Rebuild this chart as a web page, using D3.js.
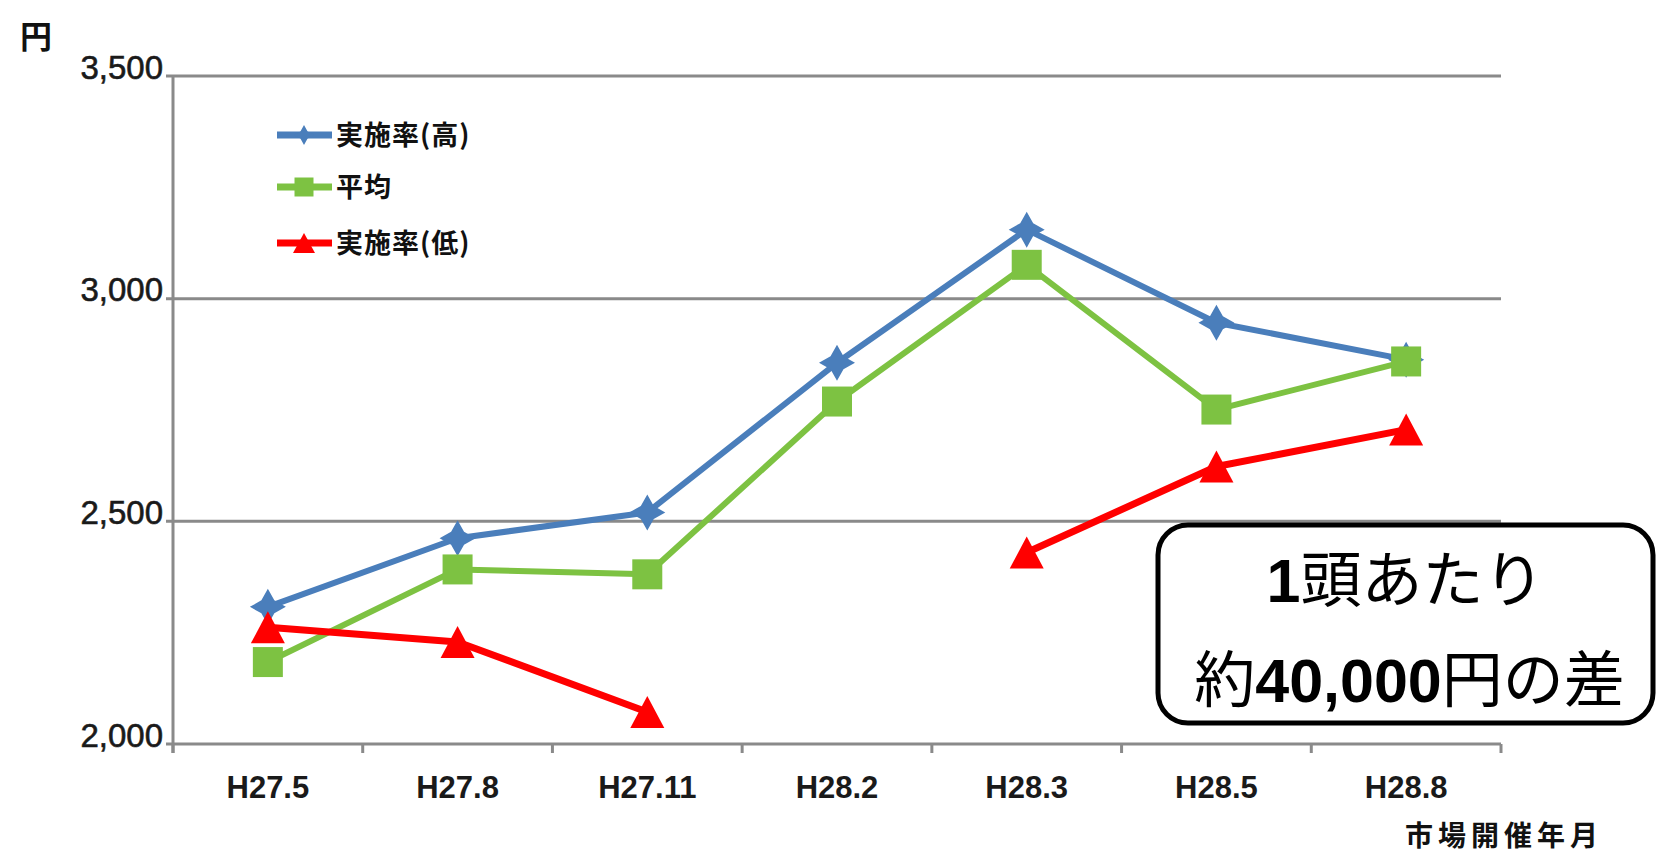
<!DOCTYPE html>
<html>
<head>
<meta charset="utf-8">
<script src="https://cdn.jsdelivr.net/npm/d3@7"></script>
<style>
  html, body { margin: 0; padding: 0; background: #fff; }
  svg { display: block; }
</style>
</head>
<body>
<svg id="chart" width="1657" height="854"></svg>
<script>
// ---- data ----
const categories = ["H27.5", "H27.8", "H27.11", "H28.2", "H28.3", "H28.5", "H28.8"];
const seriesHigh = [2308, 2462, 2520, 2856, 3155, 2946, 2863];
const seriesAvg  = [2184, 2392, 2381, 2769, 3076, 2751, 2859];
const seriesLow  = [2262, 2229, 2072, null, 2430, 2623, 2706];
const seriesNames = ["実施率(高)", "平均", "実施率(低)"];
const yTicks = [2000, 2500, 3000, 3500];
const yUnit = "円";
const xTitle = "市場開催年月";
const noteLine1 = ["1", "頭あたり"];
const noteLine2 = ["約", "40,000", "円の差"];

(function () {
// ---- layout ----
const svg = d3.select("#chart");
const pLeft = 173, pRight = 1501, pTop = 76, pBottom = 744;

const x = d3.scaleBand().domain(categories).range([pLeft, pRight]).padding(0);
const y = d3.scaleLinear().domain([2000, 3500]).range([pBottom, pTop]);
const cx = c => x(c) + x.bandwidth() / 2;

const gridColor = "#8a8a8a";

// gridlines
svg.append("g").selectAll("line").data(yTicks.filter(t => t !== 2000)).join("line")
  .attr("x1", pLeft - 7).attr("x2", pRight)
  .attr("y1", d => y(d)).attr("y2", d => y(d))
  .attr("stroke", gridColor).attr("stroke-width", 3);

// x axis
const xAxis = d3.axisBottom(x).tickSize(0).tickFormat(d => d);
const gx = svg.append("g").attr("transform", `translate(0,${pBottom})`).call(xAxis);
gx.select(".domain").remove();
gx.selectAll("text")
  .attr("dy", 0).attr("y", 54)
  .attr("font-family", "'Liberation Sans', Arial, sans-serif")
  .attr("font-weight", "bold").attr("font-size", 31).attr("fill", "#1a1a1a");
svg.append("line").attr("x1", pLeft - 7).attr("x2", pRight)
  .attr("y1", pBottom).attr("y2", pBottom)
  .attr("stroke", gridColor).attr("stroke-width", 3);
// category boundary ticks
const bounds = categories.map(c => x(c)).concat([pRight]);
svg.append("g").selectAll("line").data(bounds).join("line")
  .attr("x1", d => d).attr("x2", d => d)
  .attr("y1", pBottom).attr("y2", pBottom + 9)
  .attr("stroke", gridColor).attr("stroke-width", 3);

// y axis
svg.append("line").attr("x1", pLeft).attr("x2", pLeft)
  .attr("y1", pTop).attr("y2", pBottom + 9)
  .attr("stroke", gridColor).attr("stroke-width", 3);
const yAxis = d3.axisLeft(y).tickValues(yTicks).tickSize(0).tickFormat(d3.format(","));
const gy = svg.append("g").attr("transform", `translate(${pLeft - 10},0)`).call(yAxis);
gy.select(".domain").remove();
gy.selectAll("text")
  .attr("dy", 2).attr("x", 0)
  .attr("font-family", "'Liberation Sans', Arial, sans-serif")
  .attr("font-size", 33).attr("fill", "#1a1a1a")
  .attr("stroke", "#1a1a1a").attr("stroke-width", 0.6);

// unit label
svg.append("text").attr("x", 20).attr("y", 48).text(yUnit)
  .attr("font-family", "'Noto Sans CJK JP', sans-serif")
  .attr("font-weight", "bold").attr("font-size", 32).attr("fill", "#111");

// x title
svg.append("text").attr("x", 1405).attr("y", 846).text(xTitle)
  .attr("font-family", "'Noto Sans CJK JP', sans-serif")
  .attr("font-weight", "bold").attr("font-size", 28)
  .attr("letter-spacing", 5).attr("fill", "#111");

// ---- series ----
const colors = ["#4a7ebb", "#7dc242", "#ff0000"];
const seriesData = [seriesHigh, seriesAvg, seriesLow];

function diamondPath(r) {
  const i = r * 0.36;
  return `M0,${-r}L${i},${-i}L${r},0L${i},${i}L0,${r}L${-i},${i}L${-r},0L${-i},${-i}Z`;
}
function squarePath(s) { const h = s / 2; return `M${-h},${-h}H${h}V${h}H${-h}Z`; }
function trianglePath(w, h) { return `M0,${-h/2}L${w/2},${h/2}L${-w/2},${h/2}Z`; }
const markerPaths = [diamondPath(18), squarePath(30), trianglePath(34, 32)];
const legendMarkers = [diamondPath(10), squarePath(19), trianglePath(22, 20)];
const lineWidths = [6, 6, 7];

seriesData.forEach((vals, si) => {
  const pts = categories.map((c, i) => ({ c, v: vals[i] }));
  const line = d3.line().defined(d => d.v != null).x(d => cx(d.c)).y(d => y(d.v));
  svg.append("path").datum(pts).attr("d", line)
    .attr("fill", "none").attr("stroke", colors[si])
    .attr("stroke-width", lineWidths[si]).attr("stroke-linejoin", "round");
});
seriesData.forEach((vals, si) => {
  const pts = categories.map((c, i) => ({ c, v: vals[i] })).filter(d => d.v != null);
  svg.append("g").selectAll("path").data(pts).join("path")
    .attr("d", markerPaths[si])
    .attr("transform", d => `translate(${cx(d.c)},${y(d.v)})`)
    .attr("fill", colors[si]);
});

// ---- legend ----
const legendY = [135, 187, 243];
seriesNames.forEach((name, i) => {
  const g = svg.append("g");
  g.append("line").attr("x1", 277).attr("x2", 332)
    .attr("y1", legendY[i]).attr("y2", legendY[i])
    .attr("stroke", colors[i]).attr("stroke-width", 7);
  g.append("path").attr("d", legendMarkers[i])
    .attr("transform", `translate(304,${legendY[i]})`).attr("fill", colors[i]);
  g.append("text").attr("x", 336).attr("y", legendY[i] + 10).text(name)
    .attr("font-family", "'Noto Sans CJK JP', sans-serif")
    .attr("font-weight", "bold").attr("font-size", 27)
    .attr("letter-spacing", 1).attr("fill", "#111");
});

// ---- annotation box ----
const boxX = 1158, boxY = 525, boxW = 495, boxH = 198;
svg.append("rect").attr("x", boxX).attr("y", boxY).attr("width", boxW).attr("height", boxH)
  .attr("rx", 30).attr("ry", 30)
  .attr("fill", "#fff").attr("stroke", "#000").attr("stroke-width", 5);

const t1 = svg.append("text").attr("x", boxX + boxW / 2).attr("y", 602)
  .attr("text-anchor", "middle").attr("font-size", 61).attr("fill", "#000")
  .attr("font-family", "'Noto Sans CJK JP', sans-serif");
t1.append("tspan").text(noteLine1[0]).attr("font-weight", "bold")
  .attr("font-family", "'Liberation Sans', Arial, sans-serif");
t1.append("tspan").text(noteLine1[1]);

const t2 = svg.append("text").attr("x", boxX + boxW / 2 + 4).attr("y", 702)
  .attr("text-anchor", "middle").attr("font-size", 61).attr("fill", "#000")
  .attr("font-family", "'Noto Sans CJK JP', sans-serif");
t2.append("tspan").text(noteLine2[0]);
t2.append("tspan").text(noteLine2[1]).attr("font-weight", "bold")
  .attr("font-family", "'Liberation Sans', Arial, sans-serif");
t2.append("tspan").text(noteLine2[2]);
})();
</script>
</body>
</html>
